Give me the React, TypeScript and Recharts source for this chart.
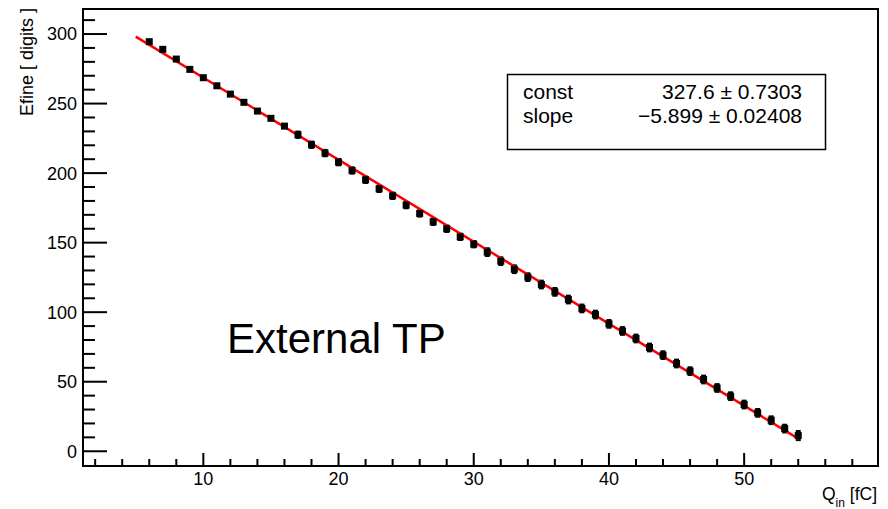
import { ComposedChart, Scatter, Line, XAxis, YAxis, ErrorBar, ReferenceArea } from 'recharts';

// charge injected (fC) and measured Efine (digits)
const qIn = [
  6, 7, 8, 9, 10, 11, 12, 13, 14, 15, 16, 17, 18, 19, 20, 21, 22, 23, 24, 25,
  26, 27, 28, 29, 30, 31, 32, 33, 34, 35, 36, 37, 38, 39, 40, 41, 42, 43, 44, 45,
  46, 47, 48, 49, 50, 51, 52, 53, 54,
];
const efine = [
  294.5, 289.0, 282.0, 274.6, 268.6, 262.8, 256.8, 250.9, 244.6, 239.4,
  233.8, 227.6, 220.4, 214.4, 207.9, 201.9, 195.2, 188.7, 183.7, 177.0,
  171.0, 165.0, 160.0, 154.2, 148.9, 143.2, 136.7, 130.9, 125.2, 119.9,
  114.6, 109.1, 102.7, 98.3, 91.6, 86.5, 81.1, 74.6, 69.1, 63.1,
  57.6, 51.6, 45.5, 39.6, 33.6, 27.6, 22.3, 16.3, 11.3,
];
const efineErr = [
  2.0, 2.0, 2.0, 2.0, 2.0, 2.0, 2.0, 2.0, 2.0, 2.0,
  2.0, 3.0, 3.0, 3.0, 3.0, 3.0, 3.0, 3.0, 3.0, 3.0,
  3.0, 3.0, 3.0, 3.0, 3.0, 3.5, 3.5, 3.5, 3.5, 3.5,
  3.5, 3.5, 3.5, 3.5, 3.5, 3.5, 3.5, 3.5, 3.5, 3.5,
  3.5, 3.5, 3.5, 3.5, 3.5, 3.5, 3.5, 3.5, 4.0,
];

// linear fit endpoints
const fitQ = [5, 54];
const fitE = [298.1, 9.1];

const xTicks = [2, 4, 6, 8, 10, 12, 14, 16, 18, 20, 22, 24, 26, 28, 30, 32, 34, 36, 38, 40, 42, 44, 46, 48, 50, 52, 54, 56, 58];
const xLabels = [10, 20, 30, 40, 50];
const yTicks = [0, 10, 20, 30, 40, 50, 60, 70, 80, 90, 100, 110, 120, 130, 140, 150, 160, 170, 180, 190, 200, 210, 220, 230, 240, 250, 260, 270, 280, 290, 300, 310];
const yLabels = [0, 50, 100, 150, 200, 250, 300];

const X_DOMAIN: [number, number] = [1.1, 59.9];
const Y_DOMAIN: [number, number] = [-10.6, 318];

const points = qIn.map((x, i) => ({ x, y: efine[i], err: efineErr[i] }));
const fitLine = fitQ.map((x, i) => ({ x, y: fitE[i] }));

const FONT = '"Liberation Sans", Arial, Helvetica, sans-serif';
const GAP = 6;

function XTick({ x, y, payload }: any) {
  const v = payload.value;
  const major = xLabels.includes(v);
  const axisY = y - GAP;
  return (
    <g>
      <line x1={x} x2={x} y1={axisY} y2={axisY - (major ? 13 : 7)} stroke="#000" strokeWidth={2} />
      {major && (
        <text x={x} y={axisY + 19} textAnchor="middle" fontSize={18} fontFamily={FONT} fill="#000">{v}</text>
      )}
    </g>
  );
}

function YTick({ x, y, payload }: any) {
  const v = payload.value;
  const major = yLabels.includes(v);
  const axisX = x + GAP;
  return (
    <g>
      <line x1={axisX} x2={axisX + (major ? 24 : 12)} y1={y} y2={y} stroke="#000" strokeWidth={2} />
      {major && (
        <text x={axisX - 6} y={y + 6.4} textAnchor="end" fontSize={18} fontFamily={FONT} fill="#000">{v}</text>
      )}
    </g>
  );
}

const Square = ({ cx, cy }: any) => <rect x={cx - 3.5} y={cy - 3.5} width={7} height={7} fill="#000" />;

export default function App() {
  return (
    <div style={{ position: 'absolute', left: 0, top: 0, width: 888, height: 509, background: '#fff' }}>
      <ComposedChart width={888} height={509} margin={{ top: 9, right: 10, bottom: 0, left: 0 }}>
        <XAxis
          type="number" dataKey="x" domain={X_DOMAIN} allowDataOverflow
          ticks={xTicks} interval={0} tick={<XTick />} tickLine={false} axisLine={false}
          tickSize={0} tickMargin={GAP} height={43}
        />
        <YAxis
          type="number" dataKey="y" domain={Y_DOMAIN} allowDataOverflow
          ticks={yTicks} interval={0} tick={<YTick />} tickLine={false} axisLine={false}
          tickSize={0} tickMargin={GAP} width={83}
        />
        <ReferenceArea
          x1={X_DOMAIN[0]} x2={X_DOMAIN[1]} y1={Y_DOMAIN[0]} y2={Y_DOMAIN[1]}
          fill="none" stroke="#000" strokeWidth={2} fillOpacity={0}
        />
        <Scatter data={points} dataKey="y" shape={<Square />} isAnimationActive={false}>
          <ErrorBar dataKey="err" direction="y" width={0} stroke="#000" strokeWidth={5} />
        </Scatter>
        <Line
          data={fitLine} dataKey="y" type="linear" stroke="#ff0000" strokeWidth={2.5}
          dot={false} isAnimationActive={false}
        />
      </ComposedChart>

      <svg width={888} height={509} style={{ position: 'absolute', left: 0, top: 0, pointerEvents: 'none' }}>
        <text transform="translate(33, 8) rotate(-90)" textAnchor="end" fontSize={18} fontFamily={FONT} fill="#000">
          Efine [ digits ]
        </text>
        <text x={877} y={500} textAnchor="end" fontSize={17.5} fontFamily={FONT} fill="#000">
          <tspan>Q</tspan>
          <tspan fontSize={12} dy={7}>in</tspan>
          <tspan dy={-7}> [fC]</tspan>
        </text>
        <rect x={507.5} y={74.5} width={318} height={75} fill="#fff" stroke="#000" strokeWidth={1.5} />
        <text x={523} y={99} fontSize={21} fontFamily={FONT} fill="#000">const</text>
        <text x={802} y={99} textAnchor="end" fontSize={21} fontFamily={FONT} fill="#000">327.6 ± 0.7303</text>
        <text x={523} y={123} fontSize={21} fontFamily={FONT} fill="#000">slope</text>
        <text x={802} y={123} textAnchor="end" fontSize={21} fontFamily={FONT} fill="#000">−5.899 ± 0.02408</text>
        <text x={227} y={353} fontSize={42} fontFamily={FONT} fill="#000">External TP</text>
      </svg>
    </div>
  );
}
